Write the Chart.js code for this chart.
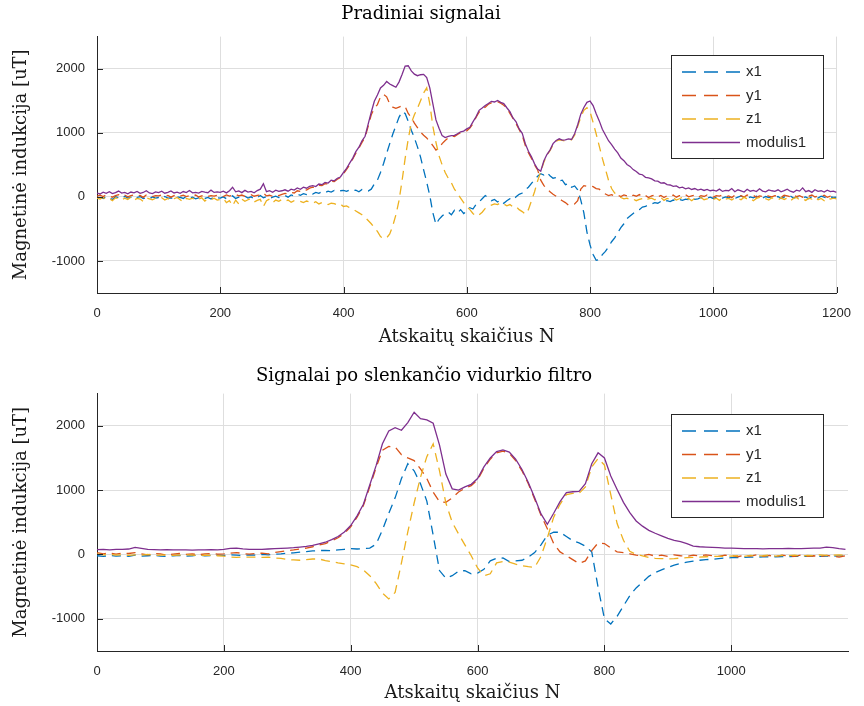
<!DOCTYPE html>
<html>
<head>
<meta charset="utf-8">
<title>Pradiniai signalai</title>
<script src="https://cdn.jsdelivr.net/npm/chart.js@4.4.0/dist/chart.umd.min.js"></script>
<style>
  html, body { margin: 0; padding: 0; background: #fff; }
  .panel { position: absolute; left: 0; width: 864px; height: 353px; }
  #rawPanel { top: 0; }
  #avgPanel { top: 353px; }
</style>
</head>
<body>
<div class="panel" id="rawPanel"><canvas id="rawChart" width="864" height="353"></canvas></div>
<div class="panel" id="avgPanel"><canvas id="avgChart" width="864" height="353"></canvas></div>
<script>
// raw samples, one value every 5 counts (N = 0 .. 1200)
const rawX1 = [
  -30,-10,-25,5,-20,-40,0,-15,-30,10,-20,-5,-35,-10,5,-25,-15,-30,0,-20,
  -10,-30,5,-20,-15,-35,0,-10,-25,10,-20,-5,-30,-15,0,-25,-10,-35,5,-15,
  -20,0,-30,-10,15,-25,-5,-15,10,-20,0,-30,-10,20,-15,5,-25,-5,10,-10,
  5,20,-5,30,15,40,25,50,35,60,45,70,55,80,65,90,75,100,85,95,
  100,85,110,95,105,80,115,100,90,120,200,260,380,520,680,830,980,1110,1240,1330,
  1300,1180,1040,920,780,620,420,230,20,-250,-430,-350,-300,-260,-240,-280,-210,-250,-200,-260,
  -220,-170,-190,-120,-80,-30,20,-20,-60,-40,-80,-50,-100,-60,-30,-50,0,40,60,110,
  150,210,270,320,360,340,380,330,290,300,250,260,190,210,150,170,110,-50,-250,-550,
  -750,-900,-990,-980,-900,-850,-780,-700,-640,-560,-480,-420,-340,-300,-260,-220,-200,-160,-150,-120,
  -110,-90,-100,-70,-85,-60,-75,-50,-65,-40,-55,-35,-45,-20,-40,-30,-10,-35,-20,-5,
  -25,-10,5,-20,0,-15,10,-25,-5,15,-10,-30,0,-15,10,-5,-20,5,-10,0,
  -15,5,-25,0,-10,15,-20,-5,10,-15,0,-30,5,-10,-20,10,-5,-25,0,-10,
  -5
];
const rawY1 = [
  10,25,5,30,15,-5,20,35,10,25,0,18,30,12,22,-8,28,15,5,20,
  15,30,8,22,-5,18,35,12,25,5,20,10,28,-2,15,32,8,20,12,25,
  18,5,30,12,25,40,15,28,8,20,35,10,22,30,60,15,25,8,32,20,
  40,55,45,70,60,95,85,115,105,135,150,140,180,175,205,200,245,240,275,300,
  360,430,500,590,680,760,850,930,1100,1280,1380,1440,1560,1600,1560,1450,1400,1380,1400,1420,
  1410,1300,1240,1150,1080,1010,960,920,860,800,730,760,830,880,920,950,940,975,1000,1020,
  1030,1075,1140,1240,1320,1370,1400,1445,1465,1470,1485,1460,1430,1385,1300,1225,1140,1050,960,800,
  690,600,500,420,260,180,120,80,40,10,-30,-60,-90,-130,-120,-110,-60,120,175,165,
  170,160,130,120,80,45,20,35,10,25,5,30,15,-5,25,10,35,0,20,-10,
  15,30,0,22,-10,18,5,28,-5,20,12,35,0,15,25,-8,18,6,30,10,
  -5,20,12,28,0,15,-12,25,8,18,-3,30,10,22,-8,15,5,27,12,0,
  20,8,-10,25,14,0,30,5,18,-6,22,10,28,-2,15,6,25,-8,12,20,
  5
];
const rawZ1 = [
  -20,-35,-10,-45,-25,-60,-15,-30,-50,-20,-40,-5,-55,-25,-35,-70,-15,-30,-45,-20,
  -35,-15,-50,-25,-60,-30,-10,-45,-80,-25,-40,-20,-55,-35,-15,-65,-30,-45,-20,-50,
  -40,-25,-90,-60,-140,-50,-110,-35,-70,-45,-30,-80,-55,-40,-150,-60,-35,-90,-50,-70,
  -40,-65,-50,-85,-60,-55,-70,-90,-65,-80,-100,-75,-110,-90,-95,-120,-100,-105,-130,-115,
  -150,-140,-170,-190,-220,-250,-280,-320,-370,-420,-480,-540,-620,-650,-640,-580,-450,-280,-60,250,
  600,900,1150,1280,1380,1500,1620,1700,1450,1100,850,640,500,380,290,220,120,50,-20,-90,
  -150,-200,-260,-300,-280,-240,-180,-150,-130,-110,-120,-90,-110,-140,-120,-160,-150,-200,-230,-270,
  -200,-60,80,250,390,540,650,720,810,870,890,880,870,900,890,960,1100,1240,1350,1390,
  1330,1160,980,790,600,430,260,130,60,20,-10,-30,-20,-50,-35,-60,-40,-25,-55,-30,
  -20,-45,-30,-10,-55,-25,-40,-15,-50,-30,-5,-40,-25,-60,-20,-35,-10,-45,-30,-15,
  -40,-20,-55,-10,-35,-25,-50,-15,-30,-45,-5,-35,-20,-60,-25,-10,-40,-30,-50,-15,
  -30,-50,-15,-40,-20,-65,-25,-10,-45,-30,-55,-20,-35,-5,-45,-25,-60,-15,-35,-20,
  -30
];
const rawModulus = [
  60,45,72,55,80,50,65,90,58,70,48,75,62,85,55,68,95,60,52,78,
  66,88,57,70,92,61,74,55,83,67,98,62,71,58,86,73,64,105,69,77,
  70,88,62,95,150,78,92,66,101,74,85,63,98,120,205,80,96,72,104,85,
  95,110,88,120,105,140,118,150,135,165,175,160,200,190,225,215,260,250,290,310,
  380,445,525,605,705,775,875,945,1135,1320,1490,1590,1700,1740,1800,1760,1735,1710,1790,1910,
  2040,2045,1965,1915,1890,1905,1910,1860,1700,1450,1200,1070,955,925,945,955,960,985,1015,1025,
  1060,1085,1170,1250,1350,1385,1425,1455,1490,1480,1505,1475,1455,1390,1330,1230,1170,1060,990,830,
  710,625,515,435,400,560,660,730,830,880,905,885,890,905,895,985,1125,1290,1395,1475,
  1495,1425,1295,1185,1055,965,875,815,745,685,605,565,505,475,425,395,355,345,305,295,
  280,250,245,215,220,190,185,165,170,140,150,125,140,115,130,105,120,100,115,95,
  105,90,120,85,100,95,130,80,110,92,75,118,88,100,82,125,90,78,108,95,
  85,110,78,96,120,88,72,105,90,140,80,98,70,112,86,95,75,104,82,90,
  70
];

// moving-average output, one value every 10 counts (N = 0 .. 1180)
const avgX1 = [
  -20,-30,-15,-25,-20,-30,-10,-25,-20,-15,-25,-30,-20,-15,-25,-20,-10,-20,-15,-10,
  -15,-5,-10,-15,-5,-10,0,-5,5,10,20,25,35,45,55,60,65,60,70,80,
  90,85,90,100,160,380,640,880,1180,1410,1300,1100,830,300,-250,-370,-330,-260,-250,-300,
  -290,-230,-100,-60,-55,-110,-100,-90,-40,30,150,300,345,345,280,215,180,130,40,-510,
  -1000,-1080,-960,-800,-640,-520,-430,-340,-280,-240,-200,-165,-140,-120,-105,-90,-80,-75,-65,-55,
  -50,-48,-45,-42,-40,-38,-36,-35,-33,-32,-30,-30,-28,-30,-28,-25,-28,-22,-20
];
const avgY1 = [
  30,10,25,5,20,15,30,10,-5,15,10,-10,5,15,0,10,-5,8,15,5,
  10,20,30,15,5,15,20,10,30,45,60,70,85,100,120,145,170,210,260,330,
  430,580,760,1050,1350,1620,1680,1670,1550,1500,1460,1330,1180,970,820,810,880,970,1030,1070,
  1160,1340,1480,1580,1605,1570,1460,1300,1100,860,610,400,170,40,-20,-80,-140,-100,60,180,
  170,100,40,30,10,-10,-20,0,-25,-10,-30,-5,-20,-30,-10,-25,-5,-20,-30,-10,
  -20,-35,-15,-25,-5,-30,-15,-35,-10,-25,-30,-10,-30,-20,-35,-15,-25,-40,-20
];
const avgZ1 = [
  10,-5,0,-10,-5,-15,-5,-10,0,-15,-10,-5,-15,-10,-5,-10,-20,-10,-15,-20,
  -25,-40,-45,-40,-42,-40,-45,-40,-55,-60,-80,-85,-90,-80,-70,-70,-95,-110,-130,-145,
  -160,-190,-240,-330,-450,-600,-690,-590,-130,350,800,1200,1520,1720,1300,800,500,320,150,-20,
  -210,-330,-300,-130,-110,-120,-150,-175,-190,-200,-30,260,580,780,930,950,950,1050,1360,1490,
  1390,930,480,220,50,0,-20,-45,-60,-65,-68,-65,-55,-50,-45,-40,-35,-30,-28,-30,
  -25,-20,-30,-15,-25,-20,-10,-25,-15,-20,-10,-25,-15,-20,-5,-15,-10,-5,-15
];
const avgModulus = [
  75,78,72,80,78,85,110,95,80,75,72,75,70,72,70,68,72,70,75,72,
  80,95,100,88,80,78,80,85,90,95,100,105,115,125,140,165,190,230,280,350,
  450,600,780,1080,1380,1720,1920,1970,1930,2050,2210,2110,2090,2040,1700,1250,1020,1000,1050,1090,
  1180,1360,1500,1600,1625,1590,1480,1320,1120,880,630,470,640,820,960,975,980,1100,1410,1580,
  1500,1220,1010,810,650,520,440,375,330,290,250,220,200,170,130,120,115,110,105,100,
  98,95,92,90,92,88,90,92,90,95,92,90,95,98,100,115,105,90,80
];

const rawStep = 5;
const avgStep = 10;
const yTicks = [-1000, 0, 1000, 2000];
const rawXTicks = [0, 200, 400, 600, 800, 1000, 1200];
const avgXTicks = [0, 200, 400, 600, 800, 1000];
const seriesNames = ['x1', 'y1', 'z1', 'modulis1'];
const seriesColors = ['#0072BD', '#D95319', '#EDB120', '#7E2F8E'];

const SERIF = '"DejaVu Serif", "Liberation Serif", serif';
const SANS = '"Liberation Sans", Arial, sans-serif';
const INK = '#262626';

// tick marks pointing into the plot, like the default axes style
const innerTicks = {
  id: 'innerTicks',
  afterDatasetsDraw(chart) {
    const { ctx, chartArea: area, scales: { x, y } } = chart;
    ctx.save();
    ctx.strokeStyle = INK;
    ctx.lineWidth = 1;
    ctx.beginPath();
    x.ticks.forEach(t => {
      const px = Math.round(x.getPixelForValue(t.value)) + 0.5;
      ctx.moveTo(px, area.bottom);
      ctx.lineTo(px, area.bottom - 6);
    });
    y.ticks.forEach(t => {
      const py = Math.round(y.getPixelForValue(t.value)) + 0.5;
      ctx.moveTo(area.left, py);
      ctx.lineTo(area.left + 6, py);
    });
    ctx.stroke();
    ctx.restore();
  }
};

// boxed legend in the upper right corner of the plot
const boxLegend = {
  id: 'boxLegend',
  afterDraw(chart, args, opts) {
    const { ctx } = chart;
    const sets = chart.data.datasets;
    const h = opts.rowHeight * sets.length + 9;
    ctx.save();
    ctx.fillStyle = '#fff';
    ctx.fillRect(opts.left, opts.top, opts.width, h);
    ctx.strokeStyle = INK;
    ctx.lineWidth = 1;
    ctx.strokeRect(opts.left + 0.5, opts.top + 0.5, opts.width, h);
    ctx.font = '15px ' + SANS;
    ctx.textBaseline = 'middle';
    sets.forEach((ds, i) => {
      const yy = opts.top + 17 + i * opts.rowHeight;
      ctx.strokeStyle = ds.borderColor;
      ctx.lineWidth = ds.borderWidth;
      ctx.setLineDash(ds.borderDash.length ? [14, 8] : []);
      ctx.beginPath();
      ctx.moveTo(opts.left + 11, yy);
      ctx.lineTo(opts.left + 69, yy);
      ctx.stroke();
      ctx.setLineDash([]);
      ctx.fillStyle = INK;
      ctx.fillText(ds.label, opts.left + 75, yy);
    });
    ctx.restore();
  }
};

function makeDatasets(series, step) {
  return series.map((values, i) => ({
    label: seriesNames[i],
    data: values.map((v, k) => ({ x: k * step, y: v })),
    borderColor: seriesColors[i],
    borderWidth: 1.3,
    borderDash: i < 3 ? [9, 6] : [],
    pointRadius: 0,
    tension: 0,
    order: 3 - i
  }));
}

const plainNumber = v => String(v);

function makeChart(canvasId, cfg) {
  return new Chart(document.getElementById(canvasId), {
    type: 'line',
    data: { datasets: makeDatasets(cfg.series, cfg.step) },
    options: {
      responsive: false,
      animation: false,
      devicePixelRatio: 1,
      layout: { padding: { left: 0, right: cfg.rightPad, top: 0, bottom: 0 } },
      plugins: {
        legend: { display: false },
        tooltip: { enabled: false },
        title: {
          display: true,
          text: cfg.title,
          color: '#000',
          font: { family: SERIF, size: 18, weight: 'normal' },
          padding: cfg.titlePad
        },
        boxLegend: { left: 671, top: cfg.legendTop, width: 152, rowHeight: 23.5 }
      },
      scales: {
        x: {
          type: 'linear',
          min: 0,
          max: cfg.xMax,
          afterBuildTicks: s => { s.ticks = cfg.xTicks.map(v => ({ value: v })); },
          afterFit: s => { s.height = cfg.xAxisHeight; },
          grid: { color: '#dedede', drawTicks: false },
          border: { color: INK, width: 1 },
          ticks: { color: INK, padding: 13, maxRotation: 0, callback: plainNumber, font: { family: SANS, size: 13 } },
          title: {
            display: true,
            text: 'Atskaitų skaičius N',
            color: '#1a1a1a',
            font: { family: SERIF, size: 18 },
            padding: { top: 0, bottom: cfg.xTitlePad }
          }
        },
        y: {
          min: -1500,
          max: 2500,
          afterBuildTicks: s => { s.ticks = yTicks.map(v => ({ value: v })); },
          afterFit: s => { s.width = 97; },
          grid: { color: '#dedede', drawTicks: false },
          border: { color: INK, width: 1 },
          ticks: { color: INK, padding: 12, callback: plainNumber, font: { family: SANS, size: 13 } },
          title: {
            display: true,
            text: 'Magnetinė indukcija [uT]',
            color: '#1a1a1a',
            font: { family: SERIF, size: 18 },
            padding: { top: 11, bottom: 0 }
          }
        }
      }
    },
    plugins: [innerTicks, boxLegend]
  });
}

makeChart('rawChart', {
  title: 'Pradiniai signalai',
  series: [rawX1, rawY1, rawZ1, rawModulus],
  step: rawStep,
  xMax: 1200,
  xTicks: rawXTicks,
  rightPad: 22,
  titlePad: { top: 4, bottom: 11 },
  xAxisHeight: 60,
  xTitlePad: 5,
  legendTop: 55
});

makeChart('avgChart', {
  title: 'Signalai po slenkančio vidurkio filtro',
  series: [avgX1, avgY1, avgZ1, avgModulus],
  step: avgStep,
  xMax: 1184,
  xTicks: avgXTicks,
  rightPad: 16,
  titlePad: { top: 13, bottom: 6 },
  xAxisHeight: 55,
  xTitlePad: 2,
  legendTop: 61
});
</script>
</body>
</html>
